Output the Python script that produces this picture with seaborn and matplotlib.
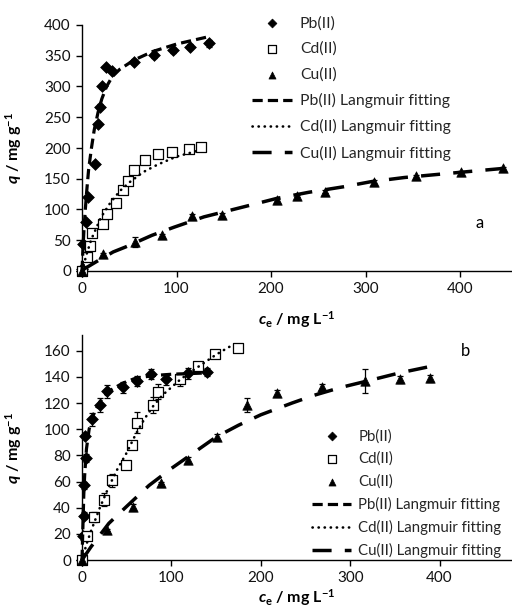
import matplotlib
matplotlib.use("Agg")
import matplotlib.pyplot as plt
import seaborn as sns
import numpy as np

# ---------------- data: panel a ----------------
a_pb_c = [0, 0.4, 1.4, 4.2, 6.7, 13.8, 16.6, 19.4, 21.2, 25.8, 31.8, 54.8, 76, 96.5, 113.8, 134]
a_pb_q = [0, 4, 44, 80, 121, 174, 239, 267, 300, 331, 326, 340, 351, 359, 365, 370]
a_pb_e = [0, 2, 3, 3, 3, 4, 4, 4, 4, 3, 3, 4, 4, 4, 4, 5]

a_cd_c = [0, 4.9, 8.5, 10.2, 21.9, 26, 35.6, 43.8, 49, 55.4, 66.7, 80.9, 95.7, 113, 126]
a_cd_q = [0, 23, 40, 62, 76, 92, 111, 132, 146, 164, 181, 191, 194, 198, 201]
a_cd_e = [0, 4, 4, 4, 4, 4, 5, 4, 4, 4, 4, 3, 3, 3, 3]

a_cu_c = [0, 22, 56, 85, 116, 148, 206, 228, 257, 309, 353, 401, 445]
a_cu_q = [0, 27, 47, 58, 89, 91, 115, 122, 129, 145, 154, 161, 167]
a_cu_e = [0, 2, 8, 2, 3, 3, 2, 2, 2, 3, 2, 2, 2]

a_pbfit_c = [0, 1, 2, 3.5, 5, 7, 10, 13, 17, 21, 26, 32, 40, 55, 75, 100, 134]
a_pbfit_q = [0, 35, 65, 100, 130, 165, 200, 230, 258, 280, 300, 316, 328, 343, 357, 369, 381]

a_cdfit_c = [0, 5, 10, 20, 30, 40, 50, 65, 80, 100, 126]
a_cdfit_q = [0, 28, 52, 87, 111, 130, 144, 161, 173, 186, 197]

a_cufit_c = [0, 3, 15, 33, 46, 74, 97, 129, 178, 206, 240, 277, 305, 341, 397, 447]
a_cufit_q = [0, 4, 15, 31, 39, 58, 71, 88, 107, 118, 128, 137, 145, 152, 160, 167]

# ---------------- data: panel b ----------------
b_pb_c = [0, 1.5, 2.6, 2.6, 4.5, 3.4, 10.8, 20, 28.4, 46, 61, 77, 93.7, 119, 140]
b_pb_q = [0, 18, 34, 57, 78, 95, 107.5, 118.5, 129, 132, 137, 142, 138, 142.7, 144]
b_pb_e = [0, 3, 3, 3, 3, 2, 5, 5, 5, 4, 4, 4, 4, 4, 3]

b_cd_c = [0, 5.2, 13.8, 25, 33, 49, 55.6, 62, 79, 85, 110, 130, 149, 175]
b_cd_q = [0, 18, 33, 46, 61, 72.6, 88, 105, 118.5, 128.7, 138, 148, 157.5, 162]
b_cd_e = [0, 3, 4, 5, 5, 2, 2, 8, 6, 6, 5, 3, 3, 3]

b_cu_c = [0, 27.6, 57.5, 88.4, 119, 150.7, 184.7, 218, 268, 317, 356, 389.6]
b_cu_q = [0, 23, 40.8, 59, 76.4, 94, 118.5, 128, 132.5, 137, 138, 138.8]
b_cu_e = [0, 1, 2, 1, 2, 2, 5, 2, 2, 9, 3, 3]

b_pbfit_c = [0, 1, 2, 3, 5, 8, 12, 20, 30, 45, 60, 80, 100, 120, 140]
b_pbfit_q = [0, 25, 50, 65, 85, 100, 110, 121, 129, 135, 139, 141, 142, 142.5, 143]

b_cdfit_c = [0, 5, 10, 20, 30, 40, 50, 60, 70, 80, 90, 100, 110, 120, 135, 150, 170]
b_cdfit_q = [0, 12, 22, 40, 56, 70, 82, 96, 108, 118, 126, 132, 138, 143, 150, 157, 165]

b_cufit_c = [0, 10, 20, 30, 50, 75, 100, 125, 150, 175, 200, 235, 260, 290, 320, 355, 390]
b_cufit_q = [0, 10, 19, 28, 41, 57, 70, 82, 94, 103, 111, 120, 126, 132, 137, 143, 148]

series_labels = ["Pb(II)", "Cd(II)", "Cu(II)"]
fit_labels = ["Pb(II) Langmuir fitting", "Cd(II) Langmuir fitting", "Cu(II) Langmuir fitting"]
panel_labels = ["a", "b"]

# ---------------- style ----------------
sns.set_theme(style="ticks")
plt.rcParams['font.family'] = ['Lato', 'DejaVu Sans']
plt.rcParams['mathtext.fontset'] = 'custom'
plt.rcParams['mathtext.it'] = 'Lato:italic:bold'
plt.rcParams['mathtext.rm'] = 'Lato:bold'
plt.rcParams['mathtext.bf'] = 'Lato:bold'
plt.rcParams['axes.unicode_minus'] = False

W, H = 512, 611
fig = plt.figure(figsize=(W / 100, H / 100), dpi=100)

ax_a = fig.add_axes([82 / W, 1 - 271 / H, (W - 82) / W, (271 - 25) / H])
ax_b = fig.add_axes([82 / W, 1 - 560 / H, (W - 82) / W, (560 - 335) / H])

k = 'black'
fit_styles = [
    dict(lw=2.3, dashes=(3.2, 1.6), cap='butt'),
    dict(lw=1.9, dashes=(0.1, 2.2), cap='round'),
    dict(lw=2.5, dashes=(5.5, 3.8), cap='butt'),
]


def draw(ax, pts, fits):
    markers = ['D', 's', '^']
    sizes = [36, 46, 46]
    for (c, q, e), m, s, lab in zip(pts, markers, sizes, series_labels):
        ax.errorbar(c, q, yerr=e, fmt='none', ecolor=k, elinewidth=0.9,
                    capsize=2.5, capthick=0.9, zorder=3, clip_on=False)
        if m == 's':
            sns.scatterplot(x=c, y=q, ax=ax, marker=m, s=s, facecolor='white',
                            edgecolor=k, linewidth=0.9, zorder=4, label=lab,
                            clip_on=False)
        else:
            sns.scatterplot(x=c, y=q, ax=ax, marker=m, s=s, color=k,
                            edgecolor=k, linewidth=0.5, zorder=4, label=lab,
                            clip_on=False)
    for (c, q), st, lab in zip(fits, fit_styles, fit_labels):
        sns.lineplot(x=c, y=q, ax=ax, color=k, lw=st['lw'], dashes=False,
                     label=lab, zorder=5, sort=False, estimator=None)
        ln = ax.lines[-1]
        ln.set_dashes(st['dashes'])
        ln.set_dash_capstyle(st['cap'])
        ln.set_clip_on(False)


draw(ax_a,
     [(a_pb_c, a_pb_q, a_pb_e), (a_cd_c, a_cd_q, a_cd_e), (a_cu_c, a_cu_q, a_cu_e)],
     [(a_pbfit_c, a_pbfit_q), (a_cdfit_c, a_cdfit_q), (a_cufit_c, a_cufit_q)])
draw(ax_b,
     [(b_pb_c, b_pb_q, b_pb_e), (b_cd_c, b_cd_q, b_cd_e), (b_cu_c, b_cu_q, b_cu_e)],
     [(b_pbfit_c, b_pbfit_q), (b_cdfit_c, b_cdfit_q), (b_cufit_c, b_cufit_q)])

ax_a.set_xlim(0, 455)
ax_a.set_ylim(0, 400)
ax_a.set_xticks([0, 100, 200, 300, 400])
ax_a.set_yticks(np.arange(0, 401, 50))
ax_b.set_xlim(0, 481)
ax_b.set_ylim(0, 172)
ax_b.set_xticks([0, 100, 200, 300, 400])
ax_b.set_yticks(np.arange(0, 161, 20))

for ax in (ax_a, ax_b):
    sns.despine(ax=ax)
    ax.set_facecolor('none')
    for sp in ('left', 'bottom'):
        ax.spines[sp].set_linewidth(1.0)
        ax.spines[sp].set_color(k)
    ax.tick_params(axis='both', direction='out', length=4, width=1.0,
                   color=k, labelsize=11, labelcolor='#111111', pad=4)
    ax.set_ylabel(r"$q$ / mg g$^{-1}$", fontsize=11.5, fontweight='bold', color=k)
    ax.set_xlabel(r"$c_\mathrm{e}$ / mg L$^{-1}$", fontsize=11.5, fontweight='bold', color=k)
    ax.yaxis.set_label_coords(-58 / 430, 0.5)
    ax.grid(False)

ax_a.xaxis.set_label_coords(0.5, -(309 - 271) / 246)
ax_b.xaxis.set_label_coords(0.5, -(587 - 560) / 225)

ax_a.text(421, 78, panel_labels[0], fontsize=12, ha='center', va='center', color=k)
ax_b.text(429, 160, panel_labels[1], fontsize=12, ha='center', va='center', color=k)

for ax, top, left, fs, spacing, hl in ((ax_a, 16, 252, 11.3, 0.72, 2.55),
                                       (ax_b, 429, 312, 10.8, 0.55, 2.6)):
    h, l = ax.get_legend_handles_labels()
    ax.legend(h, l, loc='upper left', bbox_to_anchor=(left / W, 1 - top / H),
              bbox_transform=fig.transFigure, frameon=False, fontsize=fs,
              handlelength=hl, handletextpad=0.5, borderpad=0, borderaxespad=0,
              labelspacing=spacing, scatterpoints=1, markerscale=0.75)

fig.savefig("out.png", dpi=100)
